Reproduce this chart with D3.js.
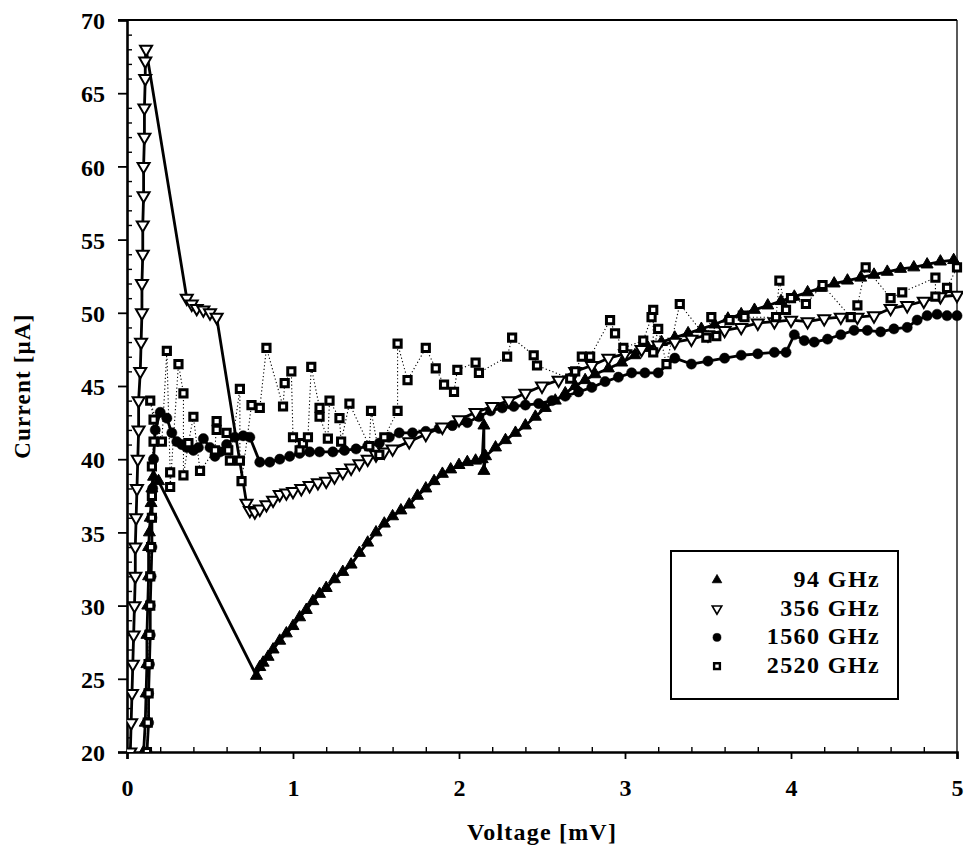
<!DOCTYPE html>
<html><head><meta charset="utf-8">
<script src="https://cdn.jsdelivr.net/npm/d3@7"></script>
<style>body{margin:0;background:#fff}</style>
</head><body>
<svg id="c" width="964" height="850"></svg>
<script>
// ---- data (Voltage [mV], Current [µA]) ----
const seriesNames = ["94 GHz","356 GHz","1560 GHz","2520 GHz"];
const xTickLabels = [0,1,2,3,4,5];
const yTickLabels = [20,25,30,35,40,45,50,55,60,65,70];

const v94 = [0.10,0.11,0.115,0.12,0.12,0.125,0.13,0.13,0.135,0.14,0.145,0.15,0.16,0.19,0.78,0.80,0.82,0.85,0.88,0.92,0.96,1.00,1.04,1.08,1.12,1.16,1.20,1.25,1.30,1.35,1.40,1.45,1.50,1.55,1.60,1.65,1.70,1.75,1.80,1.85,1.90,1.95,2.00,2.05,2.10,2.14,2.15,2.15,2.16,2.22,2.28,2.34,2.40,2.46,2.52,2.58,2.64,2.70,2.76,2.82,2.90,2.98,3.06,3.14,3.22,3.30,3.38,3.46,3.54,3.62,3.70,3.78,3.86,3.94,4.02,4.10,4.18,4.26,4.34,4.42,4.50,4.58,4.66,4.74,4.82,4.90,4.98];
const i94 = [20,22,24,26,28,30,32,34,35,36,37,38,38.8,38.5,25.2,25.8,26.1,26.5,27,27.6,28.1,28.6,29.2,29.7,30.3,30.8,31.2,31.8,32.3,32.8,33.6,34.3,35,35.6,36.1,36.5,36.9,37.5,38,38.5,39,39.3,39.6,39.8,39.9,40,42.3,39.2,40.2,40.8,41.3,41.8,42.3,42.9,43.5,44,44.5,45,45.4,45.8,46.2,46.6,47.1,47.6,48,48.3,48.6,48.9,49.2,49.6,49.9,50.2,50.5,50.8,51.1,51.4,51.7,52,52.2,52.4,52.6,52.8,53,53.1,53.3,53.5,53.6];

const v356 = [0.02,0.025,0.03,0.035,0.04,0.045,0.05,0.05,0.055,0.06,0.065,0.07,0.07,0.08,0.085,0.09,0.09,0.095,0.095,0.10,0.10,0.105,0.105,0.11,0.11,0.115,0.36,0.39,0.42,0.46,0.50,0.54,0.72,0.74,0.77,0.80,0.84,0.88,0.92,0.96,1.00,1.05,1.10,1.15,1.20,1.25,1.30,1.35,1.40,1.45,1.50,1.55,1.60,1.70,1.80,1.90,2.00,2.10,2.20,2.30,2.40,2.50,2.60,2.70,2.80,2.90,3.00,3.10,3.20,3.30,3.40,3.50,3.60,3.70,3.80,3.90,4.00,4.10,4.20,4.30,4.40,4.50,4.60,4.70,4.80,4.90,5.00];
const i356 = [20,22,24,26,28,30,32,34,36,38,40,42,44,46,48,50,52,54,56,58,60,62,64,66,67.2,68,51,50.6,50.3,50.2,50,49.7,37,36.5,36.4,36.6,36.9,37.2,37.6,37.7,37.8,38,38.2,38.4,38.5,38.8,39.1,39.4,39.7,40,40.3,40.5,40.7,41.2,41.7,42.2,42.7,43.2,43.6,44,44.5,45,45.4,46,46.4,46.9,47.2,47.5,47.8,48,48.2,48.5,48.8,49,49.3,49.4,49.5,49.4,49.6,49.7,49.7,49.8,50.3,50.5,50.8,51.1,51.2];

const v1560 = [0.12,0.13,0.13,0.135,0.14,0.14,0.145,0.15,0.15,0.155,0.16,0.17,0.20,0.24,0.27,0.30,0.33,0.36,0.40,0.43,0.46,0.50,0.53,0.56,0.60,0.65,0.70,0.74,0.80,0.86,0.92,0.98,1.04,1.10,1.16,1.24,1.31,1.38,1.45,1.52,1.58,1.64,1.72,1.80,1.88,1.96,2.05,2.12,2.19,2.26,2.33,2.40,2.48,2.56,2.64,2.72,2.80,2.88,2.96,3.04,3.12,3.20,3.30,3.40,3.50,3.60,3.70,3.80,3.90,3.97,4.02,4.08,4.14,4.22,4.30,4.38,4.46,4.54,4.62,4.70,4.76,4.82,4.88,4.94,5.00];
const i1560 = [20,22,24,26,28,30,32,34,36,38,40,42,43.2,42.8,41.8,41.2,41,40.8,40.6,40.8,41.4,40.8,40.2,40.5,41,41.5,41.6,41.5,39.8,39.8,40,40.2,40.4,40.5,40.5,40.5,40.6,40.7,40.9,41.1,41.5,41.8,41.8,41.9,42.1,42.3,42.5,42.9,43.3,43.5,43.6,43.7,43.8,44,44.3,44.6,44.9,45.3,45.6,45.9,45.9,45.9,46.9,46.5,46.7,46.9,47.1,47.2,47.3,47.3,48.5,48.1,48,48.2,48.5,48.8,48.8,48.7,48.9,49,49.5,49.8,49.9,49.8,49.8];

const v2520 = [0.12,0.125,0.13,0.13,0.135,0.14,0.14,0.145,0.15,0.15,0.15,0.16,0.16,0.14,0.21,0.24,0.26,0.26,0.31,0.34,0.34,0.37,0.40,0.44,0.53,0.54,0.54,0.60,0.61,0.62,0.68,0.68,0.69,0.75,0.80,0.84,0.94,0.95,0.99,1.00,1.04,1.06,1.09,1.11,1.16,1.16,1.21,1.22,1.28,1.29,1.34,1.46,1.47,1.52,1.55,1.63,1.63,1.69,1.80,1.86,1.91,1.97,1.99,2.10,2.12,2.29,2.32,2.45,2.47,2.67,2.70,2.74,2.79,2.91,2.94,2.99,3.11,3.16,3.17,3.17,3.20,3.25,3.33,3.49,3.52,3.55,3.63,3.71,3.72,3.91,3.93,3.97,4.00,4.09,4.19,4.36,4.40,4.45,4.60,4.67,4.87,4.87,4.94,5.00];
const i2520 = [20,22,24,26,28,30,32,34,36,37.5,39.5,41.2,42.7,44,41.2,47.4,39.1,38.1,46.5,44.5,38.9,41.1,42.9,39.2,40.6,42.6,42,41.8,40.6,39.9,44.8,39.9,38.5,43.7,43.5,47.6,43.6,45.2,46,41.5,40.6,41.1,41.5,46.3,43.5,42.9,41.4,44,42.8,41.2,43.8,40.9,43.3,40.3,41.5,43.3,47.9,45.4,47.6,46.2,45.1,44.6,46.1,46.6,45.9,47,48.3,47.1,46.4,45.5,46,47,47,49.5,48.6,47.6,48.1,49.7,50.2,47.3,48.9,46.5,50.6,48.3,49.7,48.4,49.5,49.8,49.7,49.7,52.2,50.2,51,50.6,51.9,49.7,50.5,53.1,51,51.4,52.4,51.1,51.7,53.1];

// ---- chart ----
const svg = d3.select("#c");
const X0 = 127, X1 = 957, Y0 = 752, Y1 = 20;
const x = d3.scaleLinear().domain([0,5]).range([X0,X1]);
const y = d3.scaleLinear().domain([20,70]).range([Y0,Y1]);
const FONT = "'Liberation Serif','Times New Roman',serif";

svg.append("defs").append("clipPath").attr("id","clip")
  .append("rect").attr("x",X0).attr("y",Y1-6).attr("width",X1-X0+6).attr("height",Y0-Y1+6);

// frame top & right
svg.append("line").attr("x1",118).attr("x2",X1).attr("y1",Y1).attr("y2",Y1).attr("stroke","#000").attr("stroke-width",2.2);
svg.append("line").attr("x1",X1).attr("x2",X1).attr("y1",Y1).attr("y2",Y0).attr("stroke","#000").attr("stroke-width",1.3);

// axes
const minorY = d3.range(21,70,1).filter(v=>v%5!==0);
const minorX = d3.range(0,5.0001,0.2).filter(v=>Math.abs(v-Math.round(v))>1e-6);

const gl = svg.append("g").attr("transform",`translate(${X0},0)`)
  .call(d3.axisLeft(y).tickValues(yTickLabels).tickSize(9).tickPadding(13).tickFormat(d3.format("d")));
const glm = svg.append("g").attr("transform",`translate(${X0},0)`)
  .call(d3.axisRight(y).tickValues(minorY).tickSize(5).tickFormat(""));
const gb = svg.append("g").attr("transform",`translate(0,${Y0})`)
  .call(d3.axisBottom(x).tickValues(xTickLabels).tickSize(7).tickPadding(20).tickFormat(d3.format("d")));
const gbm = svg.append("g").attr("transform",`translate(0,${Y0})`)
  .call(d3.axisTop(x).tickValues(minorX).tickSize(5).tickFormat(""));

[gl,gb].forEach(g=>{
  g.select(".domain").attr("stroke-width",2.6);
  g.selectAll(".tick line").attr("stroke-width",1.8);
  g.selectAll("text").attr("font-family",FONT).attr("font-weight","bold").attr("font-size",24).attr("fill","#000");
});
[glm,gbm].forEach(g=>{
  g.select(".domain").remove();
  g.selectAll(".tick line").attr("stroke-width",1.4);
});
gl.selectAll(".tick text").attr("dy","0.36em");

// axis titles
svg.append("text").attr("x",(X0+X1)/2).attr("y",840).attr("text-anchor","middle")
  .attr("font-family",FONT).attr("font-weight","bold").attr("font-size",24).attr("letter-spacing",1.2)
  .text("Voltage [mV]");
svg.append("text").attr("transform",`translate(30,${(Y0+Y1)/2}) rotate(-90)`).attr("text-anchor","middle")
  .attr("font-family",FONT).attr("font-weight","bold").attr("font-size",23).attr("letter-spacing",1.2)
  .text("Current [µA]");

// series
const mk = (v,i)=>v.map((d,k)=>({v:d,i:i[k]}));
const data = [mk(v94,i94), mk(v356,i356), mk(v1560,i1560), mk(v2520,i2520)];
const line = d3.line().x(d=>x(d.v)).y(d=>y(d.i));
const plot = svg.append("g").attr("clip-path","url(#clip)");

const triUp = d3.symbol().type(d3.symbolTriangle).size(62);
const triDown = d3.symbol().type(d3.symbolTriangle).size(62);
const circ = d3.symbol().type(d3.symbolCircle).size(82);
const sq = d3.symbol().type(d3.symbolSquare).size(52);

const styles = [
  {path:triUp, rot:0, fill:"#000", stroke:"#000", sw:1, lw:2.8, dash:null},
  {path:triDown, rot:180, fill:"#fff", stroke:"#000", sw:2, lw:2.8, dash:null},
  {path:circ, rot:0, fill:"#000", stroke:"#000", sw:0.5, lw:2.8, dash:null},
  {path:sq, rot:0, fill:"#fff", stroke:"#000", sw:3, lw:1.1, dash:"1.2,2.4"}
];

// lines
[3,2,0,1].forEach(s=>{
  plot.append("path").datum(data[s]).attr("d",line).attr("fill","none")
    .attr("stroke","#000").attr("stroke-width",styles[s].lw)
    .attr("stroke-dasharray",styles[s].dash).attr("stroke-linejoin","round");
});
// markers
[2,0,1,3].forEach(s=>{
  const st = styles[s];
  plot.append("g").selectAll("path").data(data[s]).join("path")
    .attr("transform",d=>`translate(${x(d.v)},${y(d.i)}) rotate(${st.rot})`)
    .attr("d",st.path()).attr("fill",st.fill).attr("stroke",st.stroke).attr("stroke-width",st.sw);
});

// legend
const lg = svg.append("g");
lg.append("rect").attr("x",671).attr("y",551).attr("width",227).attr("height",148)
  .attr("fill","#fff").attr("stroke","#000").attr("stroke-width",2);
seriesNames.forEach((n,k)=>{
  const yy = 587 + k*28.7;
  const st = styles[k];
  lg.append("path").attr("transform",`translate(717,${yy-7}) rotate(${st.rot}) scale(0.8)`)
    .attr("d",st.path()).attr("fill",st.fill).attr("stroke",st.stroke).attr("stroke-width",st.sw);
  lg.append("text").attr("x",880).attr("y",yy).attr("text-anchor","end")
    .attr("font-family",FONT).attr("font-weight","bold").attr("font-size",24).attr("letter-spacing",1.4)
    .text(n);
});
</script>
</body></html>
